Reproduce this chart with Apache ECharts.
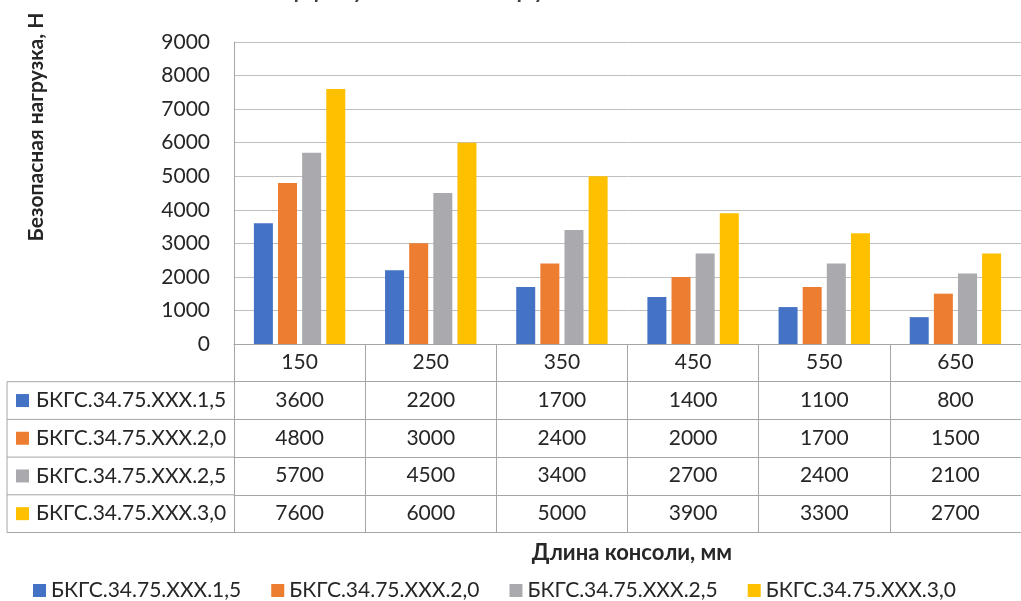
<!DOCTYPE html>
<html>
<head>
<meta charset="utf-8">
<script src="https://cdn.jsdelivr.net/npm/echarts@6/dist/echarts.min.js"></script>
<style>
html,body{margin:0;padding:0;background:#fff;}
#chart{width:1021px;height:601px;}
</style>
</head>
<body>
<div id="chart"></div>
<script>
// ---- data ----
var categories = ['150', '250', '350', '450', '550', '650'];
var seriesNames = ['БКГС.34.75.XXX.1,5', 'БКГС.34.75.XXX.2,0', 'БКГС.34.75.XXX.2,5', 'БКГС.34.75.XXX.3,0'];
var s15 = [3600, 2200, 1700, 1400, 1100, 800];
var s20 = [4800, 3000, 2400, 2000, 1700, 1500];
var s25 = [5700, 4500, 3400, 2700, 2400, 2100];
var s30 = [7600, 6000, 5000, 3900, 3300, 2700];
var titleText = 'Допустимая нагрузка на консоль БКГС.34.75';
var yName = 'Безопасная нагрузка, Н';
var xName = 'Длина консоли, мм';

var seriesData = [s15, s20, s25, s30];
var colors = ['#4472C4', '#ED7D31', '#AAAAAE', '#FFC000'];
var FONT = 'Lato, "Noto Sans", sans-serif';
var txt = '#262626';
var lineC = '#a6a6a6';

// layout
var gridLeft = 234, gridTop = 42, gridBottomY = 344, gridRight = -9;
var rowH = 37.7;
var tableLeft = 7;

var xAxes = [{
  type: 'category', data: categories, position: 'bottom', offset: 0,
  axisLine: {show: true, lineStyle: {color: lineC, width: 1}},
  axisTick: {show: true, alignWithLabel: false, length: rowH * 5, lineStyle: {color: lineC, width: 1}},
  axisLabel: {color: txt, fontFamily: FONT, fontSize: 21, margin: 8},
  splitLine: {show: false}
}];
for (var r = 0; r < 5; r++) {
  var vals = r < 4 ? seriesData[r].map(function (v) { return String(v); }) : categories.map(function () { return ''; });
  xAxes.push({
    type: 'category', data: vals, position: 'bottom', offset: rowH * (r + 1),
    axisLine: {show: true, lineStyle: {color: lineC, width: 1}},
    axisTick: {show: false},
    axisLabel: {show: r < 4, color: txt, fontFamily: FONT, fontSize: 21, margin: 8},
    splitLine: {show: false}
  });
}

var series = seriesNames.map(function (n, i) {
  return {
    name: n, type: 'bar', xAxisIndex: 0, yAxisIndex: 0,
    data: seriesData[i], barWidth: 19, barGap: '27%',
    itemStyle: {color: colors[i]}
  };
});

var graphics = [];
graphics.push({
  type: 'text', x: 605, y: -28,
  style: {text: titleText, font: '30px ' + FONT, fill: '#404040', textAlign: 'center'}
});
graphics.push({
  type: 'text', x: 36, y: 127, rotation: Math.PI / 2,
  style: {text: yName, font: 'bold 21px ' + FONT, fill: txt, textAlign: 'center', textVerticalAlign: 'middle'}
});
var top0 = gridBottomY + rowH;
graphics.push({
  type: 'line', shape: {x1: tableLeft, y1: top0, x2: tableLeft, y2: top0 + rowH * 4},
  style: {stroke: lineC, lineWidth: 1}
});
for (var k = 0; k <= 4; k++) {
  graphics.push({
    type: 'line', shape: {x1: tableLeft, y1: top0 + rowH * k, x2: gridLeft, y2: top0 + rowH * k},
    style: {stroke: lineC, lineWidth: 1}
  });
}
for (var j = 0; j < 4; j++) {
  var cy = top0 + rowH * j + rowH / 2;
  graphics.push({
    type: 'rect', shape: {x: 16, y: cy - 6.5, width: 13, height: 13},
    style: {fill: colors[j]}
  });
  graphics.push({
    type: 'text', x: 36, y: cy,
    style: {text: seriesNames[j], font: '21px ' + FONT, fill: txt, textVerticalAlign: 'middle'}
  });
}
graphics.push({
  type: 'text', x: 632, y: 553,
  style: {text: xName, font: 'bold 22px ' + FONT, fill: txt, textAlign: 'center', textVerticalAlign: 'middle'}
});

var chart = echarts.init(document.getElementById('chart'), null, {renderer: 'canvas'});
chart.setOption({
  animation: false,
  backgroundColor: '#ffffff',
  grid: {left: gridLeft, top: gridTop, right: gridRight, bottom: 601 - gridBottomY, containLabel: false},
  legend: {
    data: seriesNames, left: 28, top: 575, icon: 'rect', itemWidth: 13, itemHeight: 13, itemGap: 30,
    textStyle: {color: txt, fontFamily: FONT, fontSize: 21}
  },
  xAxis: xAxes,
  yAxis: {
    type: 'value', min: 0, max: 9000, interval: 1000,
    axisLine: {show: true, lineStyle: {color: lineC}},
    axisTick: {show: false},
    axisLabel: {color: txt, fontFamily: FONT, fontSize: 21, margin: 24, formatter: function (v) { return String(v); }},
    splitLine: {show: true, lineStyle: {color: '#bfbfbf', width: 1}}
  },
  series: series,
  graphic: graphics
});
</script>
</body>
</html>
